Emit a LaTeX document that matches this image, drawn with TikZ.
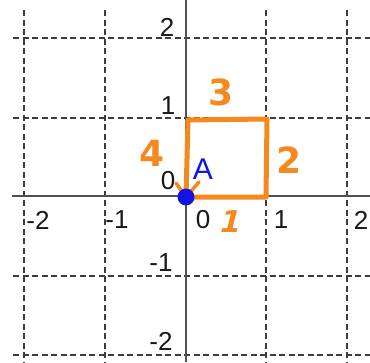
\documentclass[tikz,border=0pt]{standalone}
\usepackage{fontspec}
\setmainfont{Liberation Sans}
\newfontfamily\handfont{DejaVu Sans}
\definecolor{penorange}{RGB}{245,137,31}
\definecolor{ptblue}{RGB}{20,20,225}
\definecolor{gridgray}{RGB}{60,60,60}
\begin{document}
\begin{tikzpicture}[x=1pt,y=-1pt,
  gridline/.style={gridgray,line width=1.4pt,dash pattern=on 6pt off 3.5pt},
  axisline/.style={gridgray!90,line width=1.8pt},
  ticklabel/.style={font=\fontsize{26}{26}\selectfont,inner sep=0pt,text=black!90},
  handnum/.style={font=\handfont\bfseries\fontsize{36}{36}\selectfont,text=penorange,inner sep=0pt},
  penline/.style={penorange,line width=5pt,line cap=round,line join=round}]
\useasboundingbox (0,0) rectangle (370,362);
\fill[white] (0,0) rectangle (370,362);
% dashed grid
\foreach \gx in {24,105,266,347} \draw[gridline] (\gx,10) -- (\gx,362);
\foreach \gy in {38,118,276,355} \draw[gridline] (13,\gy) -- (370,\gy);
% axes
\draw[axisline] (186,0) -- (186,362);
\draw[axisline] (12,196) -- (370,196);
% tick labels
\node[ticklabel] (y2) at (167,27) {2};
\node[ticklabel] (y1) at (168,106) {1};
\node[ticklabel] (y0) at (168,181) {0};
\node[ticklabel] (ym1) at (161,263) {-1};
\node[ticklabel] (ym2) at (161,341) {-2};
\node[ticklabel] (xm2) at (38,220) {-2};
\node[ticklabel] (xm1) at (117,220) {-1};
\node[ticklabel] (x0) at (203,220) {0};
\node[ticklabel] (x1) at (281,220) {1};
\node[ticklabel] (x2) at (361,220) {2};
% orange square path
\coordinate (o) at (186,197);
\coordinate (br) at (266,197);
\coordinate (tr) at (267,119);
\coordinate (tl) at (188,120);
\coordinate (hl) at (176,183);
\coordinate (hr) at (199,182);
\draw[penline] (o) -- (br) -- (tr) -- (tl) -- (o);
\draw[penorange,line width=3.5pt,line cap=round] (hl) -- (o) -- (hr);
% point A
\fill[ptblue] (o) circle (8.5);
\node[font=\fontsize{30}{30}\selectfont,text=ptblue,inner sep=0pt] (A) at (203,169) {A};
% handwritten numbers
\node[handnum] (n3) at (221,92) {3};
\node[handnum] (n4) at (152,153) {4};
\node[handnum] (n2) at (289,160) {2};
\node[handnum,font=\handfont\bfseries\fontsize{30}{30}\selectfont,xslant=0.25,transform shape] (n1) at (231,222) {1};
\end{tikzpicture}
\end{document}
